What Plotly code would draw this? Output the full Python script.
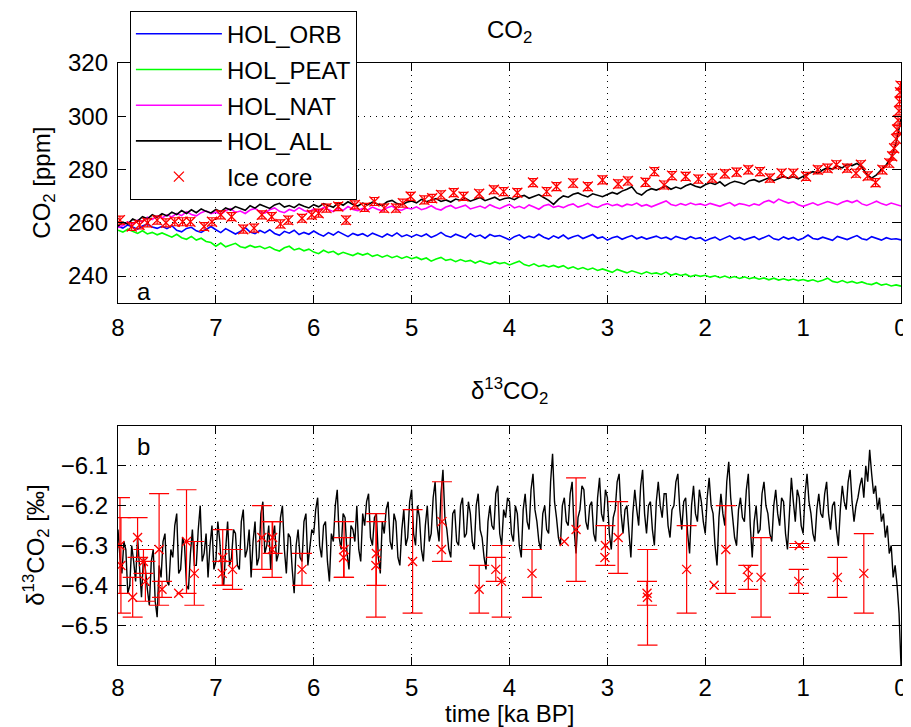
import numpy as np
import plotly.graph_objects as go

# ---------------- data ----------------
T_START = 8.0
CO2_STEP = 0.05     # ka between model samples (CO2 panel)
D13C_STEP = 0.02    # ka between model samples (d13C panel)

hol_orb = [
    258.6, 258.0, 259.2, 258.3, 257.6, 258.8, 259.5, 258.4, 257.9, 258.7,
    257.8, 258.9, 257.2, 256.6, 257.9, 258.3, 257.0, 256.4, 257.5, 258.6,
    257.4, 256.3, 257.8, 256.9, 255.8, 256.7, 258.2, 256.5, 255.9, 257.1,
    256.2, 257.4, 256.0, 255.3, 256.8, 256.1, 257.2, 255.6, 256.4, 255.7,
    256.9, 255.8, 255.0, 256.3, 255.4, 256.7, 255.6, 254.8, 256.0, 255.3,
    255.9, 254.9, 256.1, 255.2, 254.6, 255.8, 255.0, 256.2, 254.8, 255.5,
    254.7, 255.6, 254.9, 255.8, 254.5, 255.3, 256.4, 255.1, 254.6, 255.7,
    255.0, 254.3, 255.9, 254.8, 255.4, 254.2, 255.6, 254.9, 255.2, 254.5,
    253.6, 254.8, 255.5, 254.2, 255.0, 254.4, 255.7, 254.6, 253.9, 255.1,
    254.3, 255.4, 254.0, 254.8, 255.3, 254.1, 254.9, 255.6, 254.2, 254.7,
    253.5, 254.4, 254.9, 253.8, 254.6, 255.2, 254.0, 254.7, 253.9, 254.5,
    255.0, 254.1, 254.6, 253.7, 254.9, 254.3, 253.8, 254.8, 254.0, 254.4,
    253.2, 254.0, 254.6, 253.5, 254.2, 255.1, 253.9, 254.5, 253.6, 254.3,
    254.8, 253.7, 254.4, 255.3, 254.0, 253.6, 254.7, 253.9, 254.5, 253.5,
    254.2, 255.4, 254.1, 253.8, 254.6, 254.0, 253.4, 254.9, 254.2, 253.7,
    254.5, 255.2, 254.0, 253.6, 254.8, 254.1, 253.5, 254.4, 253.8, 254.0,
    253.6,
]

hol_peat = [
    257.2, 256.5, 257.6, 256.8, 256.0, 257.0, 255.8, 256.4, 255.5, 256.2,
    255.3, 254.6, 255.7, 254.4, 253.8, 254.9, 253.5, 254.2, 253.0, 252.6,
    251.2, 252.4, 251.0, 251.8, 252.3, 251.0, 250.6, 251.5, 250.8, 251.2,
    250.3, 251.0, 250.0, 249.4, 250.6, 251.2, 249.8, 250.4, 249.5, 250.1,
    249.0, 248.4, 249.7, 248.8, 249.3, 248.1, 248.9, 248.3, 247.7, 248.6,
    247.9, 248.5, 247.4, 248.0, 247.1, 247.8, 246.9, 247.5, 246.6, 247.3,
    246.5, 247.1, 246.2, 246.8, 245.6, 246.4, 247.0, 245.9, 246.3, 245.4,
    246.2, 245.5, 245.9, 244.9, 245.7, 245.0, 244.5, 245.3, 244.7, 245.1,
    244.2, 244.9, 245.6, 244.3, 243.8, 244.6, 243.6, 244.1, 243.4, 244.0,
    243.3, 243.9, 242.8, 243.5, 242.6, 243.2, 242.4, 243.0, 242.1, 242.7,
    242.0, 241.4, 242.5, 241.7, 241.2, 242.0, 241.3, 240.8, 241.6, 240.9,
    241.2, 240.6, 241.5, 240.3, 240.9, 240.2, 240.7, 239.8, 240.4, 239.9,
    240.3, 239.6, 240.1, 239.4, 240.0, 239.3, 239.8, 239.1, 239.7, 239.0,
    239.5, 238.8, 239.3, 238.6, 239.2, 238.5, 239.0, 238.4, 238.9, 238.3,
    238.7, 238.1, 238.6, 237.9, 238.4, 239.2, 238.0, 237.6, 238.3, 237.5,
    238.0, 237.3, 237.8, 237.1, 236.8, 237.5, 236.6, 237.0, 236.3, 236.7,
    236.2,
]

hol_nat = [
    258.2, 259.0, 260.3, 259.6, 261.0, 260.4, 262.1, 261.2, 262.6, 261.8,
    263.0, 262.2, 263.5, 262.7, 264.2, 263.1, 262.6, 263.8, 264.5, 263.4,
    264.0, 263.2, 264.6, 265.3, 263.9, 264.4, 263.5, 264.8, 265.4, 264.2,
    263.6, 264.9, 265.6, 264.3, 263.8, 265.0, 264.4, 265.7, 264.6, 264.0,
    265.2, 264.5, 265.8, 264.9, 264.2, 265.5, 264.7, 266.1, 265.0, 264.6,
    265.4, 264.8, 265.9, 265.1, 264.5, 265.7, 266.3, 265.0, 264.7, 265.6,
    265.2, 266.0, 264.9, 265.5, 266.4, 265.3, 264.8, 265.9, 266.5, 265.4,
    265.9, 266.6, 265.2, 265.8, 266.3, 265.5, 266.8, 265.9, 265.3, 266.2,
    266.9, 265.6, 266.2, 265.4, 266.7, 265.9, 265.1, 266.4, 266.9, 265.8,
    266.3, 265.7, 266.6, 267.1, 265.9, 266.5, 267.3, 266.2, 265.8, 266.7,
    267.2, 266.4, 266.9, 266.1, 267.0, 266.6, 267.4, 266.3, 266.8, 266.0,
    266.7, 267.5, 268.2, 266.9, 266.4, 267.2, 266.6, 267.4, 266.8, 267.1,
    266.5, 267.3, 266.8, 266.2, 267.0, 267.6, 266.4, 267.2, 266.9, 266.3,
    267.1, 266.6, 267.8, 268.4, 267.5, 268.9, 268.1, 267.4, 267.9, 266.8,
    266.2, 266.9, 267.5, 266.6, 267.3, 268.0, 267.4, 266.8, 267.7, 268.3,
    267.6, 268.4, 267.1, 266.5, 267.3, 268.1, 267.2, 266.6, 267.4, 266.9,
    266.3,
]

hol_all = [
    258.8, 260.2, 259.5, 261.4, 260.6, 262.3, 261.5, 263.0, 262.1, 263.4,
    262.6, 264.0, 263.1, 264.6, 263.5, 264.9, 263.8, 265.2, 264.3, 263.7,
    265.0, 264.2, 265.6, 264.8, 266.1, 265.3, 264.7, 266.4, 265.5, 266.9,
    266.0, 265.4, 266.7, 267.3, 265.9, 266.5, 265.7, 267.0, 266.2, 265.6,
    266.8, 266.0, 267.2, 266.4, 265.8, 267.5, 266.6, 267.9, 266.9, 266.3,
    267.4, 266.7, 267.8, 267.1, 266.5, 267.9, 268.4, 267.2, 266.8, 267.7,
    268.2, 267.5, 268.8, 267.9, 268.5, 269.1, 268.0, 268.6, 267.8, 268.9,
    268.4, 269.2, 268.1, 268.7, 269.5, 268.3, 268.9, 269.6, 268.5, 269.1,
    269.4, 268.7, 269.8, 270.3, 269.2, 269.9, 270.6, 269.5, 268.4, 266.9,
    268.8, 270.1, 269.6, 270.7, 271.2, 270.3, 269.7, 270.9, 270.4, 269.8,
    270.6, 271.4, 270.8, 271.9, 272.6, 273.5, 271.2, 270.4, 272.0, 272.8,
    272.3, 273.1, 273.8, 272.6, 273.4, 272.8, 273.9, 274.6, 273.7, 273.2,
    274.3, 275.0, 274.4, 275.4, 273.8, 274.9, 275.6, 275.1, 274.5, 275.8,
    276.2, 275.4, 276.1, 276.9, 275.8, 276.6, 277.4, 276.7, 277.3, 276.5,
    277.6, 278.4, 279.2, 278.6, 279.8, 280.7, 280.1, 281.3, 280.6, 281.9,
    281.5, 282.3, 280.9, 278.2, 276.8, 278.0, 280.0, 281.8, 284.5, 290.0,
    299.0,
]

d13c_all = [
    -6.26, -6.33, -6.37, -6.29, -6.31, -6.42, -6.40, -6.30, -6.34, -6.39,
    -6.28, -6.36, -6.43, -6.33, -6.36, -6.41, -6.45, -6.34, -6.31, -6.44,
    -6.48, -6.35, -6.38, -6.29, -6.27, -6.39, -6.40, -6.31, -6.33, -6.25,
    -6.22, -6.37, -6.36, -6.28, -6.30, -6.40, -6.41, -6.32, -6.26, -6.35,
    -6.35, -6.26, -6.20, -6.34, -6.32, -6.27, -6.38, -6.30, -6.25, -6.36,
    -6.34, -6.24, -6.29, -6.37, -6.40, -6.31, -6.24, -6.35, -6.33, -6.26,
    -6.27, -6.35, -6.36, -6.24, -6.21, -6.33, -6.31, -6.26, -6.38, -6.29,
    -6.24, -6.35, -6.33, -6.22, -6.19, -6.32, -6.30, -6.25, -6.36, -6.28,
    -6.25, -6.34, -6.32, -6.23, -6.20, -6.31, -6.37, -6.27, -6.28, -6.36,
    -6.42, -6.30, -6.26, -6.33, -6.34, -6.24, -6.22, -6.35, -6.31, -6.26,
    -6.27, -6.21, -6.18, -6.30, -6.33, -6.25, -6.24, -6.34, -6.39, -6.27,
    -6.29, -6.20, -6.16, -6.28, -6.31, -6.22, -6.23, -6.32, -6.36, -6.25,
    -6.26, -6.29, -6.20, -6.31, -6.34, -6.22, -6.25, -6.19, -6.17, -6.28,
    -6.30, -6.23, -6.22, -6.33, -6.37, -6.24, -6.27, -6.21, -6.19, -6.29,
    -6.31, -6.22, -6.24, -6.33, -6.35, -6.26, -6.21, -6.30, -6.28, -6.19,
    -6.16, -6.27, -6.30, -6.20, -6.23, -6.31, -6.34, -6.25, -6.20, -6.29,
    -6.27, -6.18, -6.14, -6.25, -6.29, -6.17, -6.11, -6.23, -6.26, -6.31,
    -6.33, -6.22, -6.21, -6.29, -6.30, -6.20, -6.18, -6.28, -6.27, -6.19,
    -6.22, -6.29, -6.31, -6.20, -6.17, -6.26, -6.28, -6.33, -6.36, -6.24,
    -6.20, -6.25, -6.26, -6.17, -6.15, -6.27, -6.30, -6.21, -6.23, -6.18,
    -6.19, -6.27, -6.29, -6.20, -6.22, -6.30, -6.33, -6.21, -6.17, -6.24,
    -6.26, -6.16, -6.12, -6.21, -6.24, -6.29, -6.31, -6.22, -6.20, -6.26,
    -6.27, -6.14, -6.07, -6.19, -6.23, -6.28, -6.30, -6.20, -6.18, -6.24,
    -6.25, -6.17, -6.14, -6.26, -6.32, -6.23, -6.21, -6.15, -6.16, -6.24,
    -6.26, -6.20, -6.19, -6.27, -6.29, -6.18, -6.13, -6.22, -6.24, -6.16,
    -6.18, -6.27, -6.31, -6.23, -6.21, -6.14, -6.12, -6.22, -6.27, -6.21,
    -6.20, -6.28, -6.33, -6.22, -6.16, -6.21, -6.25, -6.15, -6.11, -6.22,
    -6.27, -6.20, -6.19, -6.26, -6.30, -6.19, -6.14, -6.20, -6.23, -6.17,
    -6.17, -6.25, -6.28, -6.21, -6.20, -6.14, -6.12, -6.21, -6.26, -6.19,
    -6.18, -6.27, -6.32, -6.20, -6.15, -6.22, -6.24, -6.16, -6.19, -6.24,
    -6.27, -6.18, -6.13, -6.20, -6.22, -6.30, -6.35, -6.23, -6.17, -6.22,
    -6.25, -6.14, -6.09, -6.18, -6.23, -6.28, -6.30, -6.21, -6.18, -6.23,
    -6.24, -6.16, -6.12, -6.25, -6.33, -6.24, -6.20, -6.27, -6.26, -6.17,
    -6.14, -6.20, -6.22, -6.27, -6.29, -6.20, -6.16, -6.22, -6.25, -6.18,
    -6.19, -6.27, -6.31, -6.20, -6.13, -6.19, -6.24, -6.16, -6.18, -6.25,
    -6.27, -6.17, -6.12, -6.19, -6.22, -6.27, -6.29, -6.21, -6.17, -6.22,
    -6.23, -6.17, -6.14, -6.22, -6.26, -6.20, -6.19, -6.26, -6.30, -6.21,
    -6.15, -6.19, -6.21, -6.14, -6.11, -6.19, -6.24, -6.20, -6.18, -6.15,
    -6.13, -6.18, -6.10, -6.14, -6.06, -6.12, -6.17, -6.15, -6.21, -6.18,
    -6.24, -6.22, -6.28, -6.25, -6.32, -6.30, -6.38, -6.35, -6.40, -6.47,
    -6.60,
]

t_co2 = np.round(T_START - CO2_STEP * np.arange(len(hol_all)), 3)
t_d13c = np.round(T_START - D13C_STEP * np.arange(len(d13c_all)), 3)

ice_co2_t = [
    7.98, 7.86, 7.78, 7.70, 7.60, 7.51, 7.42, 7.34, 7.26, 7.12, 7.04, 6.95,
    6.84, 6.72, 6.61, 6.53, 6.43, 6.34, 6.26, 6.12, 6.02, 5.95, 5.87, 5.75,
    5.67, 5.58, 5.48, 5.38, 5.28, 5.16, 5.09, 5.01, 4.87, 4.79, 4.70, 4.57,
    4.47, 4.31, 4.16, 4.06, 3.92, 3.76, 3.62, 3.52, 3.35, 3.20, 3.05, 2.89,
    2.79, 2.61, 2.52, 2.42, 2.34, 2.20, 2.07, 1.93, 1.80, 1.68, 1.56, 1.44,
    1.34, 1.22, 1.10, 0.97, 0.85, 0.75, 0.66, 0.55, 0.46, 0.41, 0.34, 0.26,
    0.19, 0.12, 0.09, 0.07, 0.05, 0.04, 0.03, 0.02, 0.015, 0.01, 0.005,
]
ice_co2 = [
    261.0, 258.6, 259.2, 260.0, 261.0, 260.0, 260.4, 260.4, 260.4, 258.6,
    260.4, 263.0, 262.3, 257.6, 258.0, 263.0, 262.3, 259.6, 261.0, 261.7,
    263.0, 263.6, 265.5, 266.1, 261.0, 266.7, 265.8, 268.0, 265.5, 265.5,
    267.4, 269.9, 268.6, 269.2, 270.5, 271.3, 269.9, 270.9, 272.4, 271.7,
    271.3, 275.1, 271.7, 273.6, 274.9, 273.6, 276.1, 274.6, 275.7, 275.2,
    279.2, 274.2, 277.7, 277.4, 276.4, 276.8, 278.4, 279.0, 279.9, 279.2,
    276.8, 278.6, 278.6, 277.4, 279.9, 280.5, 281.8, 280.5, 278.6, 281.8,
    277.6, 275.1, 279.9, 282.4, 285.0, 288.0, 291.5, 295.0, 298.5, 302.0,
    305.5, 309.0, 311.5,
]
ICE_CO2_ERR = 1.5

ice_d13c_t = [
    7.98, 7.97, 7.85, 7.80, 7.74, 7.72, 7.58, 7.55, 7.38, 7.30, 7.22, 6.93,
    6.935, 6.83, 6.53, 6.42, 6.425, 6.12, 5.69, 5.695, 5.36, 5.365, 4.99,
    4.69, 4.695, 4.31, 4.14, 4.08, 3.77, 3.44, 3.32, 3.02, 3.025, 2.89, 2.59,
    2.595, 2.19, 1.91, 1.79, 1.57, 1.56, 1.43, 1.04, 1.045, 0.65, 0.38,
]
ice_d13c = [
    -6.30, -6.35, -6.43, -6.28, -6.34, -6.39, -6.31, -6.41, -6.42, -6.29,
    -6.37, -6.33, -6.37, -6.36, -6.28, -6.28, -6.31, -6.36, -6.31, -6.33,
    -6.32, -6.35, -6.34, -6.24, -6.31, -6.41, -6.36, -6.39, -6.37, -6.29,
    -6.26, -6.30, -6.33, -6.28, -6.43, -6.42, -6.36, -6.40, -6.31, -6.36,
    -6.38, -6.38, -6.30, -6.39, -6.38, -6.37,
]
ice_d13c_err = [
    0.12, 0.12, 0.05, 0.05, 0.03, 0.05, 0.14, 0.02, 0.0, 0.13, 0.08, 0.07,
    0.03, 0.05, 0.08, 0.04, 0.07, 0.04, 0.07, 0.05, 0.08, 0.13, 0.13, 0.10,
    0.0, 0.06, 0.03, 0.09, 0.06, 0.0, 0.13, 0.05, 0.0, 0.09, 0.12, 0.03,
    0.11, 0.0, 0.11, 0.0, 0.03, 0.10, 0.005, 0.03, 0.05, 0.10,
]

x_ticks = [8, 7, 6, 5, 4, 3, 2, 1, 0]
co2_ticks = [240, 260, 280, 300, 320]
d13c_ticks = [-6.5, -6.4, -6.3, -6.2, -6.1]
d13c_ticklabels = ["\u22126.5", "\u22126.4", "\u22126.3", "\u22126.2", "\u22126.1"]

series = [
    ("HOL_ORB", hol_orb, "#0000ff"),
    ("HOL_PEAT", hol_peat, "#00ff00"),
    ("HOL_NAT", hol_nat, "#ff00ff"),
    ("HOL_ALL", hol_all, "#000000"),
]

# ---------------- figure ----------------
FONT = "Liberation Sans, Arial, Helvetica, sans-serif"
FS = 24
PAGE_OFF = 8                 # default body margin of the html page
W, H = 911 - PAGE_OFF, 727 - PAGE_OFF
ML, MR, MT, MB = 118 - PAGE_OFF, 3, 63 - PAGE_OFF, 62
PW, PH = W - ML - MR, H - MT - MB


def px_x(px):
    return (px - PAGE_OFF - ML) / PW


def px_y(py):
    return (H - MB - (py - PAGE_OFF)) / PH


fig = go.Figure()

for name, ys, col in series:
    fig.add_trace(go.Scatter(
        x=t_co2, y=ys, mode="lines", name=name, legendgroup=name,
        line=dict(color=col, width=1.6), xaxis="x", yaxis="y"))

fig.add_trace(go.Scatter(
    x=ice_co2_t, y=ice_co2, mode="markers", name="Ice core", legendgroup="ice",
    marker=dict(symbol="x-thin", size=10, color="#ff0000",
                line=dict(color="#ff0000", width=1.3)),
    error_y=dict(type="constant", value=ICE_CO2_ERR, color="#ff0000",
                 thickness=1.2, width=4),
    xaxis="x", yaxis="y"))

fig.add_trace(go.Scatter(
    x=t_d13c, y=d13c_all, mode="lines", showlegend=False,
    line=dict(color="black", width=1.4), xaxis="x2", yaxis="y2"))

with_err = [i for i, e in enumerate(ice_d13c_err) if e > 0]
no_err = [i for i, e in enumerate(ice_d13c_err) if e <= 0]

fig.add_trace(go.Scatter(
    x=[ice_d13c_t[i] for i in with_err], y=[ice_d13c[i] for i in with_err],
    mode="markers", showlegend=False,
    marker=dict(symbol="x-thin", size=9, color="#ff0000",
                line=dict(color="#ff0000", width=1.3)),
    error_y=dict(type="data", array=[ice_d13c_err[i] for i in with_err],
                 color="#ff0000", thickness=1.2, width=10),
    xaxis="x2", yaxis="y2"))
fig.add_trace(go.Scatter(
    x=[ice_d13c_t[i] for i in no_err], y=[ice_d13c[i] for i in no_err],
    mode="markers", showlegend=False,
    marker=dict(symbol="x-thin", size=9, color="#ff0000",
                line=dict(color="#ff0000", width=1.3)),
    xaxis="x2", yaxis="y2"))

axis_common = dict(
    showline=True, linecolor="black", linewidth=1.3, mirror="ticks",
    ticks="inside", ticklen=8, tickwidth=1.2, tickcolor="black",
    showgrid=True, gridcolor="black", gridwidth=1, griddash="1px,5px",
    zeroline=False, tickfont=dict(family=FONT, size=FS, color="black"),
)

top_bottom = px_y(302.7)
bot_top = px_y(426)

fig.update_layout(
    width=W, height=H,
    margin=dict(l=ML, r=MR, t=MT, b=MB),
    paper_bgcolor="white", plot_bgcolor="white",
    font=dict(family=FONT, size=FS, color="black"),
    xaxis=dict(domain=[0, 1], range=[8, 0], tickvals=x_ticks, anchor="y",
               ticklabelstandoff=3, ticklabeloverflow="allow", **axis_common),
    yaxis=dict(domain=[top_bottom, 1], range=[230, 320], tickvals=co2_ticks,
               anchor="x", ticklabelstandoff=4, **axis_common),
    xaxis2=dict(domain=[0, 1], range=[8, 0], tickvals=x_ticks, anchor="y2",
                ticklabelstandoff=1, ticklabeloverflow="allow", **axis_common),
    yaxis2=dict(domain=[0, bot_top], range=[-6.6, -6.0], tickvals=d13c_ticks,
                ticktext=d13c_ticklabels, anchor="x2", ticklabelstandoff=4,
                **axis_common),
    showlegend=True,
    legend=dict(
        x=px_x(130), y=px_y(10.7), xanchor="left", yanchor="top",
        bgcolor="white", bordercolor="black", borderwidth=1,
        font=dict(family=FONT, size=FS, color="black"),
        itemwidth=86, tracegroupgap=1.5, traceorder="grouped",
    ),
)

ann = [
    dict(text="CO<sub>2</sub>", x=0.5, y=px_y(31), xanchor="center", yanchor="middle"),
    dict(text="\u03b4<sup>13</sup>CO<sub>2</sub>", x=0.5, y=px_y(391),
         xanchor="center", yanchor="middle"),
    dict(text="time [ka BP]", x=0.5, y=px_y(713), xanchor="center", yanchor="middle"),
    dict(text="CO<sub>2</sub> [ppm]", x=px_x(42), y=px_y(183), textangle=-90,
         xanchor="center", yanchor="middle"),
    dict(text="\u03b4<sup>13</sup>CO<sub>2</sub> [\u2030]", x=px_x(35), y=px_y(545),
         textangle=-90, xanchor="center", yanchor="middle"),
    dict(text="a", x=px_x(144), y=px_y(291), xanchor="center", yanchor="middle"),
    dict(text="b", x=px_x(144), y=px_y(446), xanchor="center", yanchor="middle"),
]
for a in ann:
    a.update(xref="paper", yref="paper", showarrow=False,
             font=dict(family=FONT, size=FS, color="black"))
fig.update_layout(annotations=ann)

fig.write_html("out.html")
